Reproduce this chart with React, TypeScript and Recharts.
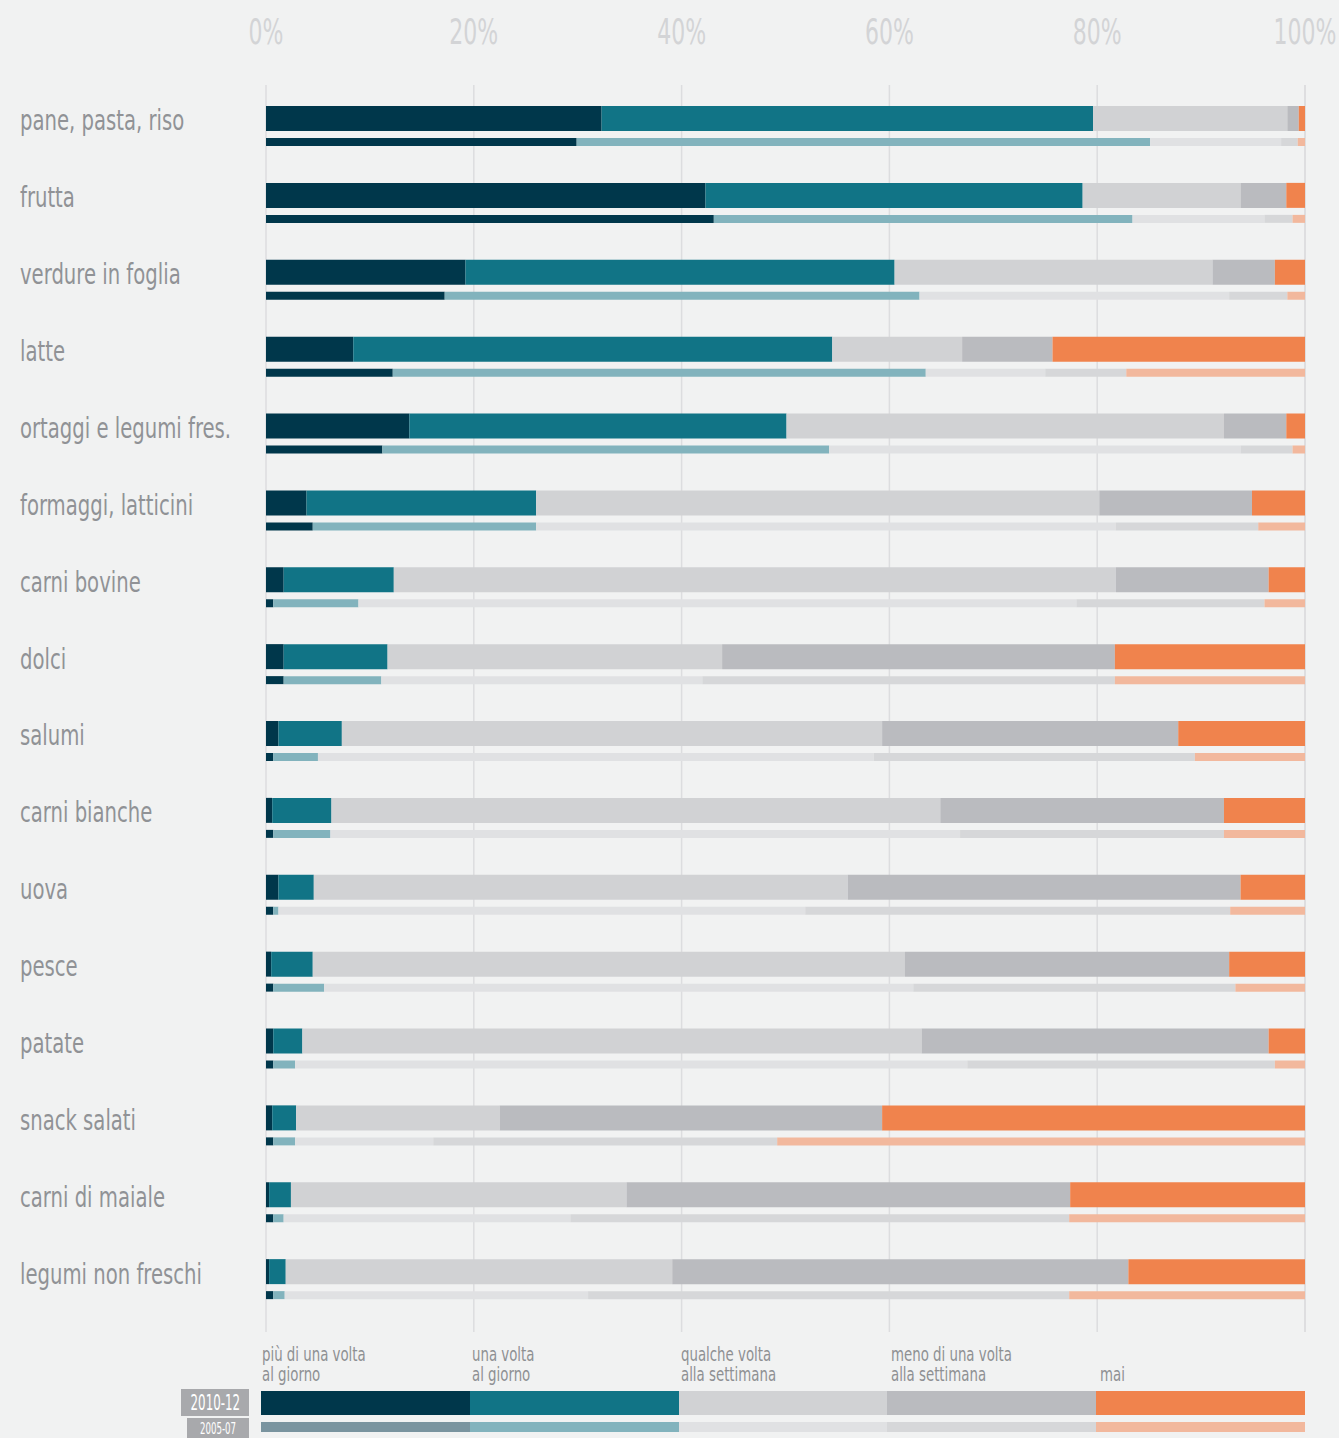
import React from 'react';
import { BarChart, Bar, XAxis, YAxis, CartesianGrid } from 'recharts';

const categories = [
  'pane, pasta, riso', 'frutta', 'verdure in foglia', 'latte', 'ortaggi e legumi fres.',
  'formaggi, latticini', 'carni bovine', 'dolci', 'salumi', 'carni bianche', 'uova',
  'pesce', 'patate', 'snack salati', 'carni di maiale', 'legumi non freschi',
];

// 2010-12
const piuVolteGiorno2010 = [32.3, 42.3, 19.2, 8.4, 13.8, 3.9, 1.7, 1.7, 1.2, 0.6, 1.2, 0.5, 0.7, 0.6, 0.3, 0.3];
const unaVoltaGiorno2010 = [47.3, 36.3, 41.3, 46.1, 36.3, 22.1, 10.6, 10.0, 6.1, 5.7, 3.4, 4.0, 2.8, 2.3, 2.1, 1.6];
const qualcheVolta2010 = [18.7, 15.2, 30.6, 12.5, 42.1, 54.2, 69.5, 32.2, 52.0, 58.6, 51.4, 57.0, 59.6, 19.6, 32.3, 37.2];
const menoUnaVolta2010 = [1.1, 4.4, 6.0, 8.7, 6.0, 14.7, 14.7, 37.8, 28.5, 27.3, 37.8, 31.2, 33.4, 36.8, 42.7, 43.9];
const mai2010 = [0.6, 1.8, 2.9, 24.3, 1.8, 5.1, 3.5, 18.3, 12.2, 7.8, 6.2, 7.3, 3.5, 40.7, 22.6, 17.0];

// 2005-07
const piuVolteGiorno2005 = [29.9, 43.1, 17.2, 12.2, 11.2, 4.5, 0.7, 1.7, 0.7, 0.7, 0.7, 0.7, 0.7, 0.7, 0.7, 0.7];
const unaVoltaGiorno2005 = [55.2, 40.3, 45.7, 51.3, 43.0, 21.5, 8.2, 9.4, 4.3, 5.5, 0.5, 4.9, 2.1, 2.1, 1.0, 1.1];
const qualcheVolta2005 = [12.6, 12.7, 29.8, 11.5, 39.6, 55.8, 69.1, 30.9, 53.5, 60.6, 50.7, 56.7, 64.7, 13.3, 27.6, 29.2];
const menoUnaVolta2005 = [1.6, 2.7, 5.6, 7.8, 5.0, 13.7, 18.1, 39.7, 30.9, 25.4, 40.9, 31.0, 29.6, 33.1, 48.0, 46.3];
const mai2005 = [0.7, 1.2, 1.7, 17.2, 1.2, 4.5, 3.9, 18.3, 10.6, 7.8, 7.2, 6.7, 2.9, 50.8, 22.7, 22.7];

const xTicks = [0, 20, 40, 60, 80, 100];
const legendLabels = [
  ['più di una volta', 'al giorno'],
  ['una volta', 'al giorno'],
  ['qualche volta', 'alla settimana'],
  ['meno di una volta', 'alla settimana'],
  ['\u00a0', 'mai'],
];
const periodLabels = ['2010-12', '2005-07'];

const colors2010 = ['#00374b', '#117486', '#d1d2d4', '#babbbf', '#f0834d'];
const colors2005 = ['#00374b', '#82b3bd', '#e0e1e3', '#d6d7d9', '#f2b89d'];
const legendColors2005 = ['#7a949f', '#82b3bd', '#e0e1e3', '#d6d7d9', '#f2b89d'];

const data = categories.map((name, i) => ({
  name,
  n1: piuVolteGiorno2010[i], n2: unaVoltaGiorno2010[i], n3: qualcheVolta2010[i], n4: menoUnaVolta2010[i], n5: mai2010[i],
  o1: piuVolteGiorno2005[i], o2: unaVoltaGiorno2005[i], o3: qualcheVolta2005[i], o4: menoUnaVolta2005[i], o5: mai2005[i],
}));

const FONT = "'DejaVu Sans Condensed', 'Liberation Sans Narrow', 'Roboto', sans-serif";
const BG = '#f1f2f2';
const SQUEEZE = 0.78;

const YTick = (props: any) => {
  const { y, payload } = props;
  return (
    <text transform={`translate(20,${y + 4}) scale(${SQUEEZE},1)`} x={0} y={0} fill="#909296" fontSize={28} fontFamily={FONT} textAnchor="start">
      {payload.value}
    </text>
  );
};

const XTick = (props: any) => {
  const { x, payload } = props;
  return (
    <text transform={`translate(${x},44) scale(0.68,1)`} x={0} y={0} fill="#d3d4d6" fontSize={36} fontFamily={FONT} textAnchor="middle">
      {`${payload.value}%`}
    </text>
  );
};

const GridLine = (p: any) => (
  <line x1={p.x1} x2={p.x2} y1={p.y1 - 3} y2={p.y2 + 14} stroke="#dcdddf" strokeWidth={1.5} />
);

const squeezeStyle: React.CSSProperties = {
  display: 'inline-block', transform: `scaleX(${SQUEEZE})`, transformOrigin: 'left center', whiteSpace: 'nowrap',
};

const badgeText: React.CSSProperties = {
  display: 'inline-block', transform: 'scaleX(0.6)', transformOrigin: 'center', whiteSpace: 'nowrap',
};

export default function App() {
  const keys2010 = ['n1', 'n2', 'n3', 'n4', 'n5'];
  const keys2005 = ['o1', 'o2', 'o3', 'o4', 'o5'];
  return (
    <div style={{ position: 'absolute', left: 0, top: 0, width: 1339, height: 1438, background: BG, overflow: 'hidden', fontFamily: FONT }}>
      <BarChart
        width={1339}
        height={1332}
        data={data}
        layout="vertical"
        margin={{ top: 2, right: 34, left: 0, bottom: 14 }}
        barGap={7}
        barCategoryGap={0}
      >
        <CartesianGrid horizontal={false} vertical={GridLine as any} />
        <XAxis
          type="number"
          orientation="top"
          domain={[0, 100]}
          ticks={xTicks}
          height={86}
          axisLine={false}
          tickLine={false}
          tick={<XTick />}
          interval={0}
        />
        <YAxis
          type="category"
          dataKey="name"
          width={266}
          axisLine={false}
          tickLine={false}
          tick={<YTick />}
          interval={0}
        />
        {keys2010.map((k, i) => (
          <Bar key={k} dataKey={k} stackId="a" barSize={25} fill={colors2010[i]} isAnimationActive={false} />
        ))}
        {keys2005.map((k, i) => (
          <Bar key={k} dataKey={k} stackId="b" barSize={8} fill={colors2005[i]} isAnimationActive={false} />
        ))}
      </BarChart>

      {legendLabels.map((lines, i) => (
        <div
          key={i}
          style={{
            position: 'absolute', left: 262 + i * 209.5, top: 1344, fontSize: 19, lineHeight: '20px',
            color: '#8e9093', whiteSpace: 'nowrap',
          }}
        >
          <div><span style={squeezeStyle}>{lines[0]}</span></div>
          <div><span style={squeezeStyle}>{lines[1]}</span></div>
        </div>
      ))}
      <div style={{ position: 'absolute', left: 261, top: 1391, width: 1044, height: 24, display: 'flex' }}>
        {colors2010.map((c, i) => (<div key={i} style={{ flex: 1, background: c }} />))}
      </div>
      <div style={{ position: 'absolute', left: 261, top: 1422, width: 1044, height: 10, display: 'flex' }}>
        {legendColors2005.map((c, i) => (<div key={i} style={{ flex: 1, background: c }} />))}
      </div>
      <div style={{
        position: 'absolute', left: 181, top: 1389, width: 68, height: 27, background: '#a8a9ac', color: '#fff',
        fontSize: 22, lineHeight: '27px', display: 'flex', justifyContent: 'center', alignItems: 'center',
      }}>
        <span style={badgeText}>{periodLabels[0]}</span>
      </div>
      <div style={{
        position: 'absolute', left: 187, top: 1418, width: 62, height: 22, background: '#a8a9ac', color: '#fff',
        fontSize: 16, lineHeight: '22px', display: 'flex', justifyContent: 'center', alignItems: 'center',
      }}>
        <span style={badgeText}>{periodLabels[1]}</span>
      </div>
    </div>
  );
}
